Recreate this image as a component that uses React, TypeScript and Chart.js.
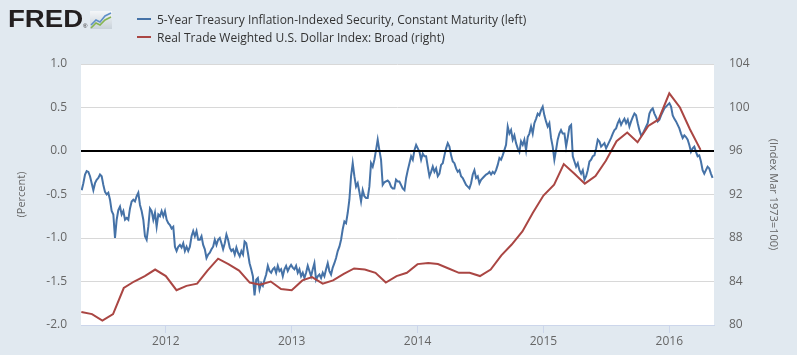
import React, { useEffect, useRef } from 'react';
import { Chart, registerables } from 'chart.js';

Chart.register(...registerables);

// ---- Data ----
// 5-Year TIPS yield, percent; observations every ~4.83 days within each segment
const blueStepDays = 4.83;
const blueStarts = ['2011-05-02', '2012-08-17', '2013-11-24', '2015-03-03'];
const bluePart1 = [
  -0.45, -0.37, -0.27, -0.23, -0.24, -0.29, -0.37, -0.45, -0.37, -0.33,
  -0.31, -0.27, -0.29, -0.39, -0.47, -0.50, -0.48, -0.56, -0.69, -0.73,
  -1.00, -0.79, -0.68, -0.64, -0.73, -0.69, -0.79, -0.77, -0.79, -0.66,
  -0.58, -0.56, -0.58, -0.52, -0.48, -0.62, -0.69, -0.79, -0.98, -1.02,
  -0.87, -0.66, -0.69, -0.79, -0.71, -0.87, -0.73, -0.75, -0.69, -0.75,
  -0.69, -0.79, -0.83, -0.85, -0.89, -0.87, -1.10, -1.15, -1.10, -1.08,
  -1.11, -1.06, -1.15, -1.10, -1.15, -1.10, -0.98, -0.92, -0.98, -0.92,
  -1.02, -1.02, -0.98, -1.08, -1.13, -1.23, -1.19, -1.17, -1.13, -1.10,
  -1.02, -1.08, -1.02, -1.00, -1.06, -1.13, -1.06, -0.96, -1.02, -1.11,
  -1.15, -1.13, -1.19, -1.11, -1.17, -1.21, -1.15, -1.19,
];
const bluePart2 = [
  -1.04, -1.06, -1.17, -1.29, -1.36, -1.44, -1.66, -1.48, -1.46, -1.59,
  -1.52, -1.55, -1.48, -1.42, -1.32, -1.38, -1.40, -1.36, -1.34, -1.40,
  -1.32, -1.38, -1.36, -1.44, -1.36, -1.32, -1.38, -1.34, -1.31, -1.34,
  -1.36, -1.32, -1.40, -1.36, -1.44, -1.40, -1.46, -1.40, -1.32, -1.38,
  -1.44, -1.36, -1.29, -1.48, -1.44, -1.42, -1.46, -1.40, -1.44, -1.36,
  -1.29, -1.38, -1.42, -1.34, -1.29, -1.23, -1.15, -1.10, -1.02, -0.90,
  -0.81, -0.83, -0.71, -0.56, -0.29, -0.14, -0.29, -0.41, -0.37, -0.47,
  -0.58, -0.45, -0.52, -0.54, -0.54, -0.41, -0.14, -0.18, -0.10, 0.01,
  0.13, 0.01, -0.10, -0.39, -0.36, -0.35, -0.34, -0.36, -0.41, -0.43,
  -0.43, -0.33, -0.35, -0.35, -0.39, -0.43,
];
const bluePart3 = [
  -0.45, -0.31, -0.22, -0.14, -0.06, -0.10, 0.01, 0.07, 0.03, -0.01,
  -0.10, -0.03, -0.06, -0.06, -0.18, -0.29, -0.24, -0.18, -0.24, -0.20,
  -0.29, -0.26, -0.16, -0.14, -0.05, 0.03, 0.09, 0.05, -0.05, -0.12,
  -0.14, -0.20, -0.24, -0.22, -0.29, -0.31, -0.35, -0.39, -0.41, -0.43,
  -0.37, -0.27, -0.22, -0.31, -0.29, -0.37, -0.33, -0.31, -0.29, -0.27,
  -0.26, -0.24, -0.27, -0.24, -0.26, -0.22, -0.16, -0.08, -0.10, -0.05,
  0.01, 0.07, 0.28, 0.20, 0.24, 0.13, 0.18, 0.09, 0.03, -0.01,
  0.11, 0.07, 0.13, 0.01, 0.16, 0.20, 0.28, 0.20, 0.32, 0.37,
  0.43, 0.41, 0.47, 0.51, 0.41, 0.34, 0.28, 0.32, 0.15, 0.05,
  -0.10, 0.01, 0.13, 0.20, 0.24, 0.20,
];
const bluePart4 = [
  0.20, 0.05, 0.16, 0.28, 0.30, -0.06, -0.12, -0.18, -0.14, -0.22,
  -0.26, -0.22, -0.33, -0.29, -0.22, -0.12, -0.10, -0.06, -0.05, 0.03,
  0.13, 0.11, 0.05, 0.07, 0.09, 0.03, 0.07, 0.11, 0.15, 0.20,
  0.24, 0.26, 0.32, 0.36, 0.30, 0.34, 0.37, 0.32, 0.36, 0.28,
  0.34, 0.39, 0.43, 0.41, 0.32, 0.24, 0.18, 0.20, 0.24, 0.28,
  0.32, 0.43, 0.47, 0.49, 0.43, 0.39, 0.34, 0.36, 0.41, 0.45,
  0.49, 0.51, 0.53, 0.55, 0.51, 0.41, 0.37, 0.34, 0.30, 0.26,
  0.20, 0.15, 0.18, 0.16, 0.13, 0.07, -0.01, 0.03, 0.05, -0.01,
  -0.06, -0.05, -0.12, -0.22, -0.26, -0.22, -0.18, -0.20, -0.26, -0.31,
];

// Real Trade Weighted U.S. Dollar Index: Broad, monthly from May 2011
const redStartMonth = '2011-05';
const redValues = [
  81.2, 81.0, 80.4, 81.0, 83.4, 84.0, 84.5, 85.1,
  84.5, 83.2, 83.6, 83.8, 85.0, 86.1, 85.6, 85.0, 83.9, 83.7, 84.0, 83.3,
  83.2, 84.1, 84.4, 83.8, 84.1, 84.7, 85.2, 85.1, 84.8, 83.9, 84.5, 84.8,
  85.6, 85.7, 85.6, 85.2, 84.8, 84.8, 84.5, 85.1, 86.4, 87.4, 88.6, 90.3,
  91.9, 92.9, 94.8, 93.9, 93.0, 93.7, 95.1, 96.9, 97.7, 96.8, 98.3, 98.9,
  101.3, 100.0, 98.0, 96.1,
];

const xRange = ['2011-04-30', '2016-05-10'];
const yearTicks = [2012, 2013, 2014, 2015, 2016];
const leftTicks = [-2.0, -1.5, -1.0, -0.5, 0.0, 0.5, 1.0];
const rightTicks = [80, 84, 88, 92, 96, 100, 104];

const blueLabel = '5-Year Treasury Inflation-Indexed Security, Constant Maturity (left)';
const redLabel = 'Real Trade Weighted U.S. Dollar Index: Broad (right)';
const leftTitle = '(Percent)';
const rightTitle = '(Index Mar 1973=100)';

const BLUE = '#4572a7';
const RED = '#aa4643';
const FONT = '"Open Sans", "Noto Sans", Arial, sans-serif';

function decYear(d: Date): number {
  const y = d.getUTCFullYear();
  const s = Date.UTC(y, 0, 1);
  const e = Date.UTC(y + 1, 0, 1);
  return y + (d.getTime() - s) / (e - s);
}
function parseDate(s: string): Date {
  return new Date(s + 'T00:00:00Z');
}

function buildBlue() {
  const parts = [bluePart1, bluePart2, bluePart3, bluePart4];
  const pts: { x: number; y: number }[] = [];
  parts.forEach((vals, p) => {
    const start = parseDate(blueStarts[p]).getTime();
    vals.forEach((v, i) => {
      const d = new Date(start + i * blueStepDays * 86400000);
      pts.push({ x: decYear(d), y: v });
    });
  });
  return pts;
}
function buildRed() {
  const [ys, ms] = redStartMonth.split('-').map(Number);
  return redValues.map((v, i) => {
    const d = new Date(Date.UTC(ys, ms - 1 + i, 1));
    return { x: decYear(d), y: v };
  });
}

const bgPlugin = {
  id: 'plotBg',
  beforeDraw(chart: any) {
    const { ctx, chartArea } = chart;
    ctx.save();
    ctx.fillStyle = '#ffffff';
    ctx.fillRect(chartArea.left, chartArea.top, chartArea.right - chartArea.left, chartArea.bottom - chartArea.top);
    ctx.restore();
  },
};
const zeroPlugin = {
  id: 'zeroLine',
  afterDatasetsDraw(chart: any) {
    const { ctx, chartArea, scales } = chart;
    const y = Math.round(scales.y.getPixelForValue(0));
    ctx.save();
    ctx.strokeStyle = '#000000';
    ctx.lineWidth = 2;
    ctx.beginPath();
    ctx.moveTo(chartArea.left, y);
    ctx.lineTo(chartArea.right, y);
    ctx.stroke();
    ctx.restore();
  },
};

function FredLogo() {
  return (
    <div style={{ position: 'absolute', left: 8, top: 6, height: 26 }}>
      <span
        style={{
          fontFamily: '"Liberation Sans", Arial, sans-serif',
          fontWeight: 900,
          fontSize: 24,
          lineHeight: '26px',
          color: '#231f20',
          transform: 'scaleX(1.15)',
          transformOrigin: 'left',
          display: 'inline-block',
        }}
      >
        FRED
      </span>
      <span
        style={{
          position: 'absolute',
          left: 75,
          top: 17,
          fontFamily: '"Liberation Sans", Arial, sans-serif',
          fontSize: 6,
          color: '#231f20',
        }}
      >
        ®
      </span>
      <svg width="24" height="20" style={{ position: 'absolute', left: 81, top: 4 }}>
        <defs>
          <linearGradient id="fredIconBg" x1="0" y1="0" x2="0" y2="1">
            <stop offset="0" stopColor="#f4f6f8" />
            <stop offset="1" stopColor="#c9d2da" />
          </linearGradient>
        </defs>
        <rect x="1" y="1" width="22" height="18" fill="url(#fredIconBg)" />
        <polyline points="2,15 7,10 11,12 16,6 22,3" fill="none" stroke="#5f8fc8" strokeWidth="1.6" />
        <polyline points="2,18 7,13 11,15 16,10 22,7" fill="none" stroke="#86b451" strokeWidth="1.6" />
      </svg>
    </div>
  );
}

function LegendRow({ color, text, top }: { color: string; text: string; top: number }) {
  return (
    <div style={{ position: 'absolute', left: 137, top, height: 16, display: 'flex', alignItems: 'center', whiteSpace: 'nowrap' }}>
      <div style={{ width: 14, height: 2, background: color, marginRight: 6 }} />
      <span style={{ fontFamily: FONT, fontSize: 12, color: '#333333' }}>{text}</span>
    </div>
  );
}

export default function App() {
  const ref = useRef<HTMLCanvasElement | null>(null);
  useEffect(() => {
    if (!ref.current) return;
    const xMin = decYear(parseDate(xRange[0]));
    const xMax = decYear(parseDate(xRange[1]));
    const chart = new Chart(ref.current, {
      type: 'line',
      data: {
        datasets: [
          {
            label: blueLabel,
            data: buildBlue(),
            yAxisID: 'y',
            borderColor: BLUE,
            borderWidth: 2,
            pointRadius: 0,
            tension: 0,
            order: 1,
          },
          {
            label: redLabel,
            data: buildRed(),
            yAxisID: 'y1',
            borderColor: RED,
            borderWidth: 2,
            pointRadius: 0,
            tension: 0,
            order: 0,
          },
        ],
      },
      options: {
        responsive: false,
        animation: false,
        layout: { padding: { top: 64, left: 0, right: 0, bottom: 0 } },
        plugins: { legend: { display: false }, tooltip: { enabled: false } },
        scales: {
          x: {
            type: 'linear',
            position: 'bottom',
            min: xMin,
            max: xMax,
            afterBuildTicks: (s: any) => {
              s.ticks = yearTicks.map((v) => ({ value: v }));
            },
            afterFit: (s: any) => {
              s.height = 30;
            },
            ticks: {
              color: '#666666',
              font: { family: FONT, size: 12 },
              padding: 1,
              maxRotation: 0,
              autoSkip: false,
              callback: (v: any) => String(v),
            },
            grid: { drawOnChartArea: false, drawTicks: true, tickLength: 8, color: '#ccd6eb' },
            border: { display: true, color: '#ccd6eb' },
          },
          y: {
            position: 'left',
            min: -2,
            max: 1,
            afterBuildTicks: (s: any) => {
              s.ticks = leftTicks.map((v) => ({ value: v }));
            },
            afterFit: (s: any) => {
              s.width = 81;
            },
            ticks: {
              color: '#666666',
              font: { family: FONT, size: 12 },
              padding: 14,
              callback: (v: any) => Number(v).toFixed(1),
            },
            grid: { color: '#d8d8d8', lineWidth: 1, drawTicks: false },
            border: { display: false },
            title: {
              display: true,
              text: leftTitle,
              color: '#666666',
              font: { family: FONT, size: 11 },
              padding: { top: 15, bottom: 0 },
            },
          },
          y1: {
            position: 'right',
            min: 80,
            max: 104,
            afterBuildTicks: (s: any) => {
              s.ticks = rightTicks.map((v) => ({ value: v }));
            },
            afterFit: (s: any) => {
              s.width = 83;
            },
            ticks: {
              color: '#666666',
              font: { family: FONT, size: 12 },
              padding: 15,
              callback: (v: any) => String(v),
            },
            grid: { display: false, drawTicks: false },
            border: { display: false },
            title: {
              display: true,
              text: rightTitle,
              color: '#666666',
              font: { family: FONT, size: 11 },
              padding: { top: 17, bottom: 0 },
            },
          },
        },
      } as any,
      plugins: [bgPlugin, zeroPlugin],
    });
    return () => chart.destroy();
  }, []);

  return (
    <div style={{ position: 'fixed', left: 0, top: 0, width: 797, height: 355, background: '#e1e9f0', overflow: 'hidden' }}>
      <canvas ref={ref} width={797} height={355} style={{ position: 'absolute', left: 0, top: 0, width: 797, height: 355 }} />
      <FredLogo />
      <LegendRow color={BLUE} text={blueLabel} top={11} />
      <LegendRow color={RED} text={redLabel} top={29} />
    </div>
  );
}
